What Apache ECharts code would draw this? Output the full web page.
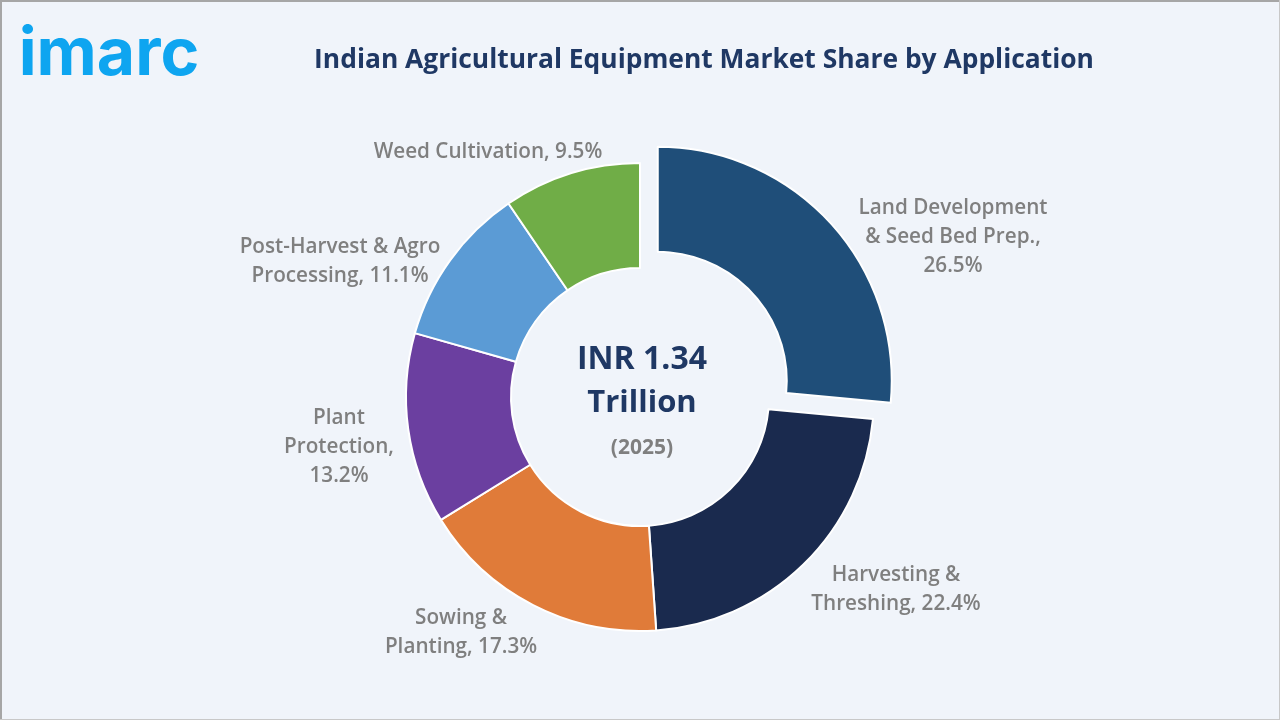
<!DOCTYPE html>
<html><head><meta charset="utf-8">
<style>html,body{margin:0;padding:0;background:#f0f4fa}#c{width:1280px;height:720px}</style>
<script src="https://cdn.jsdelivr.net/npm/echarts@6/dist/echarts.min.js"></script>
</head><body><div id="c"></div>
<script>
const categories = ["Land Development\n& Seed Bed Prep.,\n","Harvesting &\nThreshing, ","Sowing &\nPlanting, ","Plant\nProtection,\n","Post-Harvest & Agro\nProcessing, ","Weed Cultivation, "];
const shares = [26.5,22.4,17.3,13.2,11.1,9.5];
const colours = ["#1f4e79","#1a2a4e","#e07b39","#6b3fa0","#5b9bd5","#70ad47"];
const labelCentres = [[953,237],[896,590],[461,633],[339,447],[340,262],[488,152]];
const FONT = '"Open Sans", sans-serif';
const labelTexts = categories.map((n,i)=>({
  type:'text',x:labelCentres[i][0],y:labelCentres[i][1],silent:true,z:10,
  style:{text:n+shares[i].toFixed(1)+'%',font:'600 20.7px '+FONT,lineHeight:29,fill:'#7f7f7f',align:'center',verticalAlign:'middle'}
}));
const chart = echarts.init(document.getElementById('c'),null,{renderer:'canvas'});
chart.setOption({
  animation:false,
  backgroundColor:'#f0f4fa',
  graphic:[
    {type:'rect',shape:{x:0,y:0,width:1280,height:2},style:{fill:'#a6a6a6'},silent:true},
    {type:'rect',shape:{x:0,y:0,width:2,height:720},style:{fill:'#a6a6a6'},silent:true},
    {type:'rect',shape:{x:1279,y:0,width:1,height:720},style:{fill:'#c8c8c8'},silent:true},
    {type:'rect',shape:{x:0,y:719,width:1280,height:1},style:{fill:'#c8c8c8'},silent:true},
    {type:'text',x:109,y:55,style:{text:'imarc',font:'700 66px "Inter", sans-serif',fill:'#0ea5f0',align:'center',verticalAlign:'middle'}},
    {type:'text',x:704,y:60,style:{text:'Indian Agricultural Equipment Market Share by Application',font:'700 26.4px '+FONT,fill:'#1f3864',align:'center',verticalAlign:'middle'}},
    {type:'text',x:642,y:360,style:{text:'INR 1.34',font:'700 32px '+FONT,fill:'#1f3864',align:'center',verticalAlign:'middle'}},
    {type:'text',x:642,y:403,style:{text:'Trillion',font:'700 31px '+FONT,fill:'#1f3864',align:'center',verticalAlign:'middle'}},
    {type:'text',x:642,y:448,style:{text:'(2025)',font:'700 21px '+FONT,fill:'#7f7f7f',align:'center',verticalAlign:'middle'}}
  ].concat(labelTexts),
  series:[{
    type:'pie',
    center:[640,397],
    radius:[129,234],
    startAngle:90,
    clockwise:true,
    selectedMode:'multiple',
    selectedOffset:24,
    avoidLabelOverlap:false,
    itemStyle:{borderColor:'#ffffff',borderWidth:2},
    label:{show:false},
    labelLine:{show:false},
    data:categories.map((n,i)=>({name:n,value:shares[i],selected:i===0,itemStyle:{color:colours[i]}}))
  }]
});
</script></body></html>
